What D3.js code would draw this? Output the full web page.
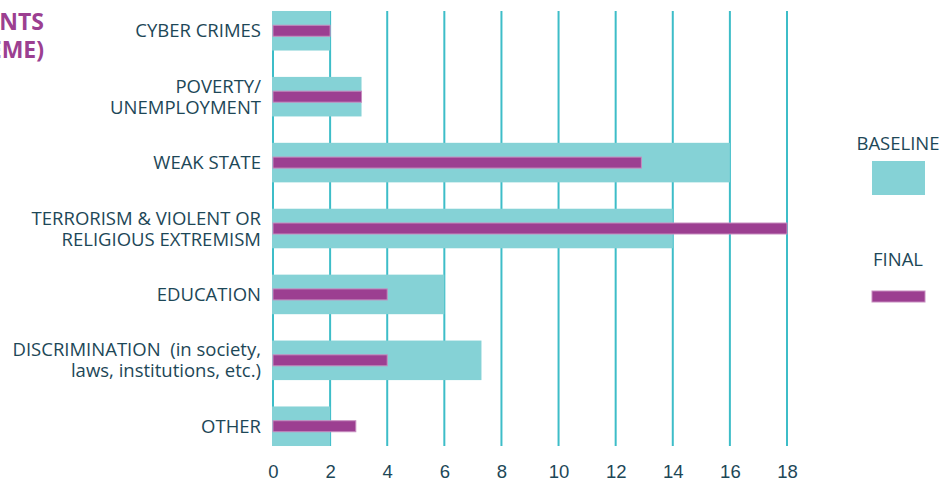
<!DOCTYPE html>
<html>
<head>
<meta charset="utf-8">
<script src="https://cdn.jsdelivr.net/npm/d3@7"></script>
<style>
  html, body { margin: 0; padding: 0; background: #fff; }
  svg { display: block; font-family: "Open Sans", sans-serif; }
  .label { fill: #1d4757; font-size: 18.5px; white-space: pre; }
  .tick text { fill: #1d4757; font-size: 18.5px; }
</style>
</head>
<body>
<div id="chart"></div>
<script>
// categories, each one may wrap over two lines
const categories = [
    ['CYBER CRIMES'],
    ['POVERTY/', 'UNEMPLOYMENT'],
    ['WEAK STATE'],
    ['TERRORISM & VIOLENT OR', 'RELIGIOUS EXTREMISM'],
    ['EDUCATION'],
    ['DISCRIMINATION  (in society,', 'laws, institutions, etc.)'],
    ['OTHER'],
];
const baselineValues = [2, 3.1, 16, 14, 6, 7.3, 2];
const finalValues = [2, 3.1, 12.9, 18, 4, 4, 2.9];
const xTicks = [0, 2, 4, 6, 8, 10, 12, 14, 16, 18];
const titleLines = ['INCIDENTS', '(BY THEME)'];

const W = 943, H = 483;
const COLORS = { baseline: '#85d2d6', final: '#9c3f91', finalStroke: '#c78dbf', grid: '#3dbdc8', text: '#1d4757', title: '#9c3f91' };

const svg = d3.select('#chart').append('svg')
    .attr('width', W)
    .attr('height', H);

const keys = categories.map((c, i) => i);

const x = d3.scaleLinear()
    .domain([0, 18])
    .range([273, 787]);

const y = d3.scaleBand()
    .domain(keys)
    .range([-2.2, 459.2])
    .paddingInner(0.4)
    .paddingOuter(0.2);

const plotTop = y(0);
const plotBottom = y(keys.length - 1) + y.bandwidth();

// title (cut off on the left edge in the original)
svg.append('g')
    .selectAll('text')
    .data(titleLines)
    .enter()
    .append('text')
    .attr('x', 44)
    .attr('y', (d, i) => 30 + i * 28)
    .attr('text-anchor', 'end')
    .attr('font-size', 23)
    .attr('font-weight', 700)
    .attr('fill', COLORS.title)
    .text(d => d);

// vertical grid
svg.append('g')
    .selectAll('line')
    .data(xTicks)
    .enter()
    .append('line')
    .attr('x1', d => x(d))
    .attr('x2', d => x(d))
    .attr('y1', plotTop)
    .attr('y2', plotBottom)
    .attr('stroke', COLORS.grid)
    .attr('stroke-width', 2);

// baseline bars
svg.append('g')
    .selectAll('rect')
    .data(baselineValues)
    .enter()
    .append('rect')
    .attr('x', x(0) - 1)
    .attr('y', (d, i) => y(i))
    .attr('width', d => x(d) - x(0) + 1)
    .attr('height', y.bandwidth())
    .attr('fill', COLORS.baseline);

// final bars
const finalH = 11;
svg.append('g')
    .selectAll('rect')
    .data(finalValues)
    .enter()
    .append('rect')
    .attr('x', x(0))
    .attr('y', (d, i) => y(i) + y.bandwidth() / 2 - finalH / 2)
    .attr('width', d => x(d) - x(0))
    .attr('height', finalH)
    .attr('fill', COLORS.final)
    .attr('stroke', COLORS.finalStroke)
    .attr('stroke-width', 1);

// category labels
const lineH = 21;
const labels = svg.append('g')
    .selectAll('text')
    .data(categories)
    .enter()
    .append('text')
    .attr('class', 'label')
    .attr('text-anchor', 'end')
    .attr('x', 261)
    .attr('y', (d, i) => y(i) + y.bandwidth() / 2 - (d.length - 1) * lineH / 2 + 6.5);

labels.selectAll('tspan')
    .data(d => d)
    .enter()
    .append('tspan')
    .attr('x', 261)
    .attr('dy', (d, i) => (i === 0 ? 0 : lineH))
    .text(d => d);

// x axis
svg.append('g')
    .attr('transform', `translate(0,${plotBottom})`)
    .call(d3.axisBottom(x).tickValues(xTicks).tickSize(0).tickPadding(19).tickFormat(d3.format('d')))
    .call(g => g.select('.domain').remove());

// legend
const legend = svg.append('g');
legend.append('text')
    .attr('class', 'label')
    .attr('x', 898)
    .attr('y', 150)
    .attr('text-anchor', 'middle')
    .text('BASELINE');
legend.append('rect')
    .attr('x', 872)
    .attr('y', 161)
    .attr('width', 53)
    .attr('height', 34)
    .attr('fill', COLORS.baseline);
legend.append('text')
    .attr('class', 'label')
    .attr('x', 898)
    .attr('y', 266)
    .attr('text-anchor', 'middle')
    .text('FINAL');
legend.append('rect')
    .attr('x', 872)
    .attr('y', 291)
    .attr('width', 53)
    .attr('height', 11)
    .attr('fill', COLORS.final)
    .attr('stroke', COLORS.finalStroke)
    .attr('stroke-width', 1);
</script>
</body>
</html>
